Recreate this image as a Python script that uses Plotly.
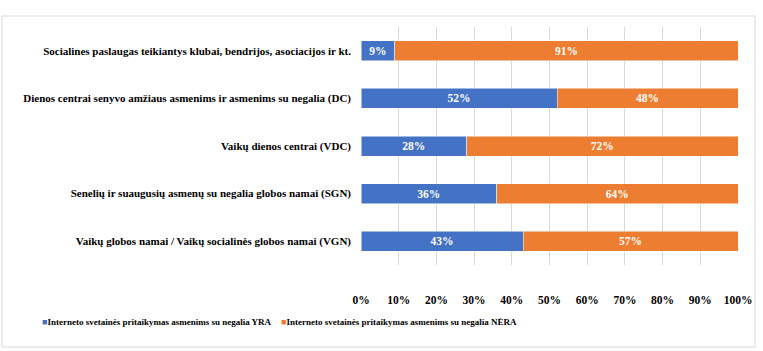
import plotly.graph_objects as go

categories = [
    "Socialines paslaugas teikiantys klubai, bendrijos, asociacijos ir kt.",
    "Dienos centrai senyvo amžiaus asmenims ir asmenims su negalia (DC)",
    "Vaikų dienos centrai (VDC)",
    "Senelių ir suaugusių asmenų su negalia globos namai (SGN)",
    "Vaikų globos namai / Vaikų socialinės globos namai (VGN)",
]
yra = [9, 52, 28, 36, 43]
nera = [91, 48, 72, 64, 57]
series_names = [
    "Interneto svetainės pritaikymas asmenims su negalia YRA",
    "Interneto svetainės pritaikymas asmenims su negalia NĖRA",
]
colors = ["#4472C4", "#ED7D31"]
tick_vals = [0, 10, 20, 30, 40, 50, 60, 70, 80, 90, 100]
tick_text = [f"{v}%" for v in tick_vals]

FONT = "Liberation Serif"

fig = go.Figure()
for name, vals, color in zip(series_names, [yra, nera], colors):
    fig.add_trace(go.Bar(
        y=categories, x=vals, name=name, orientation="h",
        marker=dict(color=color, line=dict(color="white", width=0.5)),
        text=[f"<b>{v}%</b>" for v in vals], textposition="inside",
        insidetextanchor="middle",
        textfont=dict(family=FONT, size=11.5, color="white"),
        showlegend=False,
    ))

L, R, T, B = 361, 738, 27, 265
W, H = 763, 351
pw, ph = R - L, B - T

fig.update_layout(
    width=W, height=H, barmode="stack", bargap=0.58,
    margin=dict(l=L, r=W - R, t=T, b=H - B, autoexpand=False),
    paper_bgcolor="white", plot_bgcolor="white",
    font=dict(family=FONT, size=11, color="black"),
    xaxis=dict(range=[0, 100], tickvals=tick_vals, ticktext=[f"<b>{t}</b>" for t in tick_text],
               showgrid=True, gridcolor="#D9D9D9", gridwidth=1, zeroline=False,
               ticklabelstandoff=26, tickfont=dict(family=FONT, size=11.5, color="black"),
               fixedrange=True),
    yaxis=dict(autorange="reversed", showgrid=False, ticklabelstandoff=9,
               tickfont=dict(family=FONT, size=11, color="black"),
               tickvals=categories, ticktext=[f"<b>{c}</b>" for c in categories]),
    showlegend=False,
)

# legend drawn as text entries with coloured square markers
leg_y = -(322 - B) / ph
for name, color, sx in zip(series_names, colors, [40, 279]):
    fig.add_annotation(x=(sx - L) / pw, y=leg_y, xref="paper", yref="paper",
                       xanchor="left", yanchor="middle", showarrow=False,
                       text=f"<span style='color:{color}'>■</span><b>{name}</b>",
                       font=dict(family=FONT, size=9, color="black"))

fig.add_shape(type="rect", xref="paper", yref="paper",
              x0=(2 - L) / pw, x1=(755 - L) / pw,
              y0=(B - 347) / ph, y1=(B - 16) / ph,
              line=dict(color="#D9D9D9", width=1), fillcolor="rgba(0,0,0,0)", layer="below")

fig.write_html("out.html")
